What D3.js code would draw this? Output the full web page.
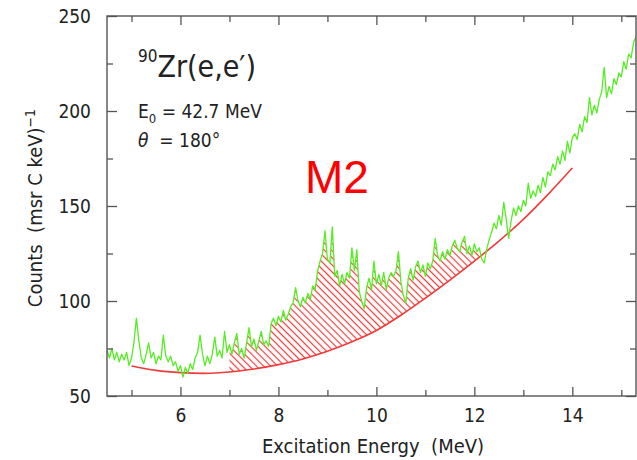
<!DOCTYPE html>
<html>
<head>
<meta charset="utf-8">
<script src="https://cdn.jsdelivr.net/npm/d3@7"></script>
<style>
  body { margin: 0; background: #fff; }
  text { font-family: "DejaVu Sans", sans-serif; font-stretch: condensed; fill: #222; }
</style>
</head>
<body>
<svg id="chart"></svg>
<script>
// spectrum channels: 4.50 .. 15.30 MeV in 0.05 MeV steps
const energyStart = 4.5;
const energyStep = 0.05;
const counts = [
  74, 70, 75, 69, 73, 68, 72, 69, 73, 66,
  70, 78, 91, 79, 70, 67, 72, 78, 70, 73,
  67, 71, 69, 82, 71, 68, 71, 66, 68, 63,
  66, 60, 65, 62, 67, 64, 70, 73, 82, 72,
  66, 71, 67, 72, 81, 71, 74, 70, 84, 73,
  77, 72, 78, 83, 72, 75, 70, 78, 86, 76,
  80, 74, 79, 84, 77, 79, 76, 88, 91, 87,
  92, 89, 95, 90, 93, 97, 99, 107, 100, 97,
  102, 99, 104, 101, 108, 106, 116, 121, 125, 137,
  122, 120, 139, 113, 116, 108, 114, 109, 115, 112,
  128, 116, 127, 105, 100, 96, 107, 112, 106, 121,
  109, 114, 108, 115, 106, 112, 115, 113, 116, 126,
  110, 103, 99, 112, 117, 111, 118, 121, 115, 119,
  113, 120, 117, 121, 133, 124, 121, 126, 122, 127,
  124, 129, 132, 128, 126, 131, 134, 125, 129, 124,
  130, 126, 128, 122, 120, 127, 132, 136, 141, 138,
  145, 140, 152, 143, 133, 142, 149, 145, 150, 147,
  153, 150, 162, 154, 158, 155, 161, 157, 165, 160,
  168, 166, 172, 169, 176, 172, 179, 174, 184, 178,
  186, 188, 185, 193, 189, 197, 194, 207, 198, 203,
  199, 206, 210, 223, 207, 213, 209, 217, 214, 220,
  218, 226, 222, 230, 228, 236, 239
];

// smooth background (red curve)
const bgEnergy = [5.0, 5.5, 6.0, 6.5, 7.0, 7.5, 8.0, 8.5, 9.0, 9.5, 10.0, 10.5, 11.0, 11.5, 12.0, 12.5, 13.0, 13.5, 14.0];
const bgCounts = [65.8, 63.5, 62.3, 61.9, 62.6, 64.2, 66.5, 69.5, 73.5, 78.5, 84.5, 92.5, 101.5, 111, 121, 131.5, 143, 156, 170];

// hatched M2 strength
const hatchRange = [7.0, 12.1];

const xDomain = [4.5, 15.3];
const yDomain = [50, 250];
const xMajor = [6, 8, 10, 12, 14];
const xMinor = [5, 7, 9, 11, 13, 15];
const yMajor = [50, 100, 150, 200, 250];
const yMinor = [75, 125, 175, 225];

const width = 637, height = 460;
const margin = { top: 16, right: 1, bottom: 64, left: 107 };

const spectrum = counts.map((c, i) => ({ e: energyStart + i * energyStep, c: c }));
const background = bgEnergy.map((e, i) => ({ e: e, c: bgCounts[i] }));

const svg = d3.select("#chart").attr("width", width).attr("height", height);

const x = d3.scaleLinear().domain(xDomain).range([margin.left, width - margin.right]);
const y = d3.scaleLinear().domain(yDomain).range([height - margin.bottom, margin.top]);

const red = "#f03a3a";
const defs = svg.append("defs");
const pat = defs.append("pattern")
    .attr("id", "hatch")
    .attr("patternUnits", "userSpaceOnUse")
    .attr("width", 5).attr("height", 5)
    .attr("patternTransform", "rotate(45)");
pat.append("line")
    .attr("x1", 0).attr("x2", 5).attr("y1", 2.5).attr("y2", 2.5)
    .attr("stroke", red).attr("stroke-width", 1.2);

// area under the spectrum, only inside the hatched range
const underSpectrum = d3.area()
    .x(d => x(d.e))
    .y0(y(yDomain[0]))
    .y1(d => y(d.c));
defs.append("clipPath").attr("id", "underSpectrum")
    .append("path")
    .attr("d", underSpectrum(spectrum.filter(d => d.e >= hatchRange[0] - 1e-6 && d.e <= hatchRange[1] + 1e-6)));

const aboveBg = d3.area()
    .x(d => x(d.e))
    .y0(y(yDomain[1]))
    .y1(d => y(d.c))
    .curve(d3.curveMonotoneX);

svg.append("path")
    .attr("d", aboveBg(background))
    .attr("fill", "url(#hatch)")
    .attr("clip-path", "url(#underSpectrum)");

svg.append("path")
    .attr("d", d3.line().x(d => x(d.e)).y(d => y(d.c)).curve(d3.curveMonotoneX)(background))
    .attr("fill", "none")
    .attr("stroke", red)
    .attr("stroke-width", 1.6);

svg.append("path")
    .attr("d", d3.line().x(d => x(d.e)).y(d => y(d.c))(spectrum))
    .attr("fill", "none")
    .attr("stroke", "#55ee22")
    .attr("stroke-width", 1.3)
    .attr("stroke-linejoin", "round");

// axes: ticks point inward on all four sides
const axisColor = "#555";
function styleAxis(g) {
    g.select(".domain").remove();
    g.selectAll(".tick line").attr("stroke", axisColor).attr("stroke-width", 1.3);
    g.selectAll(".tick text").attr("fill", "#333").style("font-size", "19px");
}

const plotBottom = height - margin.bottom, plotRight = width - margin.right;

svg.append("g").attr("transform", `translate(0,${plotBottom})`)
    .call(d3.axisBottom(x).tickValues(xMajor).tickSizeInner(-9).tickSizeOuter(0).tickPadding(13))
    .call(styleAxis);
svg.append("g").attr("transform", `translate(0,${plotBottom})`)
    .call(d3.axisBottom(x).tickValues(xMinor).tickSize(-6).tickFormat(""))
    .call(styleAxis);
svg.append("g").attr("transform", `translate(0,${margin.top})`)
    .call(d3.axisTop(x).tickValues(xMajor).tickSize(-9).tickFormat(""))
    .call(styleAxis);
svg.append("g").attr("transform", `translate(0,${margin.top})`)
    .call(d3.axisTop(x).tickValues(xMinor).tickSize(-6).tickFormat(""))
    .call(styleAxis);

svg.append("g").attr("transform", `translate(${margin.left},0)`)
    .call(d3.axisLeft(y).tickValues(yMajor).tickSizeInner(-10).tickSizeOuter(0).tickPadding(16))
    .call(styleAxis);
svg.append("g").attr("transform", `translate(${margin.left},0)`)
    .call(d3.axisLeft(y).tickValues(yMinor).tickSize(-6).tickFormat(""))
    .call(styleAxis);
svg.append("g").attr("transform", `translate(${plotRight},0)`)
    .call(d3.axisRight(y).tickValues(yMajor).tickSize(-10).tickFormat(""))
    .call(styleAxis);
svg.append("g").attr("transform", `translate(${plotRight},0)`)
    .call(d3.axisRight(y).tickValues(yMinor).tickSize(-6).tickFormat(""))
    .call(styleAxis);

svg.append("rect")
    .attr("x", margin.left).attr("y", margin.top)
    .attr("width", plotRight - margin.left).attr("height", plotBottom - margin.top)
    .attr("fill", "none").attr("stroke", axisColor).attr("stroke-width", 1.4);

// axis titles
svg.append("text")
    .attr("x", 373).attr("y", 453)
    .attr("text-anchor", "middle")
    .style("font-size", "20px")
    .text("Excitation Energy\u00a0\u00a0(MeV)");

const yTitle = svg.append("text")
    .attr("transform", `translate(42,208) rotate(-90)`)
    .attr("text-anchor", "middle")
    .style("font-size", "20px");
yTitle.append("tspan").text("Counts\u00a0\u00a0(msr C keV)");
yTitle.append("tspan").attr("dy", -7).style("font-size", "14px").text("\u22121");

// annotations
const title = svg.append("text").attr("x", 138).attr("y", 77).style("font-size", "30px");
title.append("tspan").attr("dy", -15).style("font-size", "17px").text("90");
title.append("tspan").attr("dy", 15).text("Zr(e,e\u2032)");

const e0 = svg.append("text").attr("x", 138).attr("y", 118).style("font-size", "19px");
e0.append("tspan").text("E");
e0.append("tspan").attr("dy", 5).style("font-size", "13px").text("0");
e0.append("tspan").attr("dy", -5).text(" = 42.7 MeV");

const th = svg.append("text").attr("x", 138).attr("y", 147).style("font-size", "19px");
th.append("tspan").style("font-style", "italic").text("\u03b8");
th.append("tspan").text(" \u00a0= 180\u00b0");

svg.append("text")
    .attr("x", 305).attr("y", 193)
    .style("font-family", "'Liberation Sans', Arial, sans-serif")
    .style("font-stretch", "normal")
    .style("font-size", "46px")
    .style("fill", "#ff0000")
    .text("M2");
</script>
</body>
</html>
